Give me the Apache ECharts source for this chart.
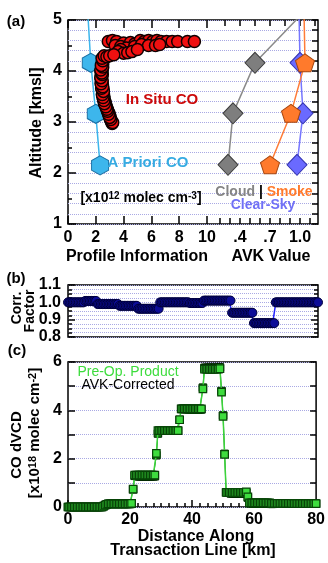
<!DOCTYPE html>
<html>
<head>
<meta charset="utf-8">
<script src="https://cdn.jsdelivr.net/npm/echarts@6/dist/echarts.min.js"></script>
<style>
  html, body { margin: 0; padding: 0; background: #fff; }
  #chart { width: 328px; height: 563px; }
</style>
</head>
<body>
<div id="chart"></div>
<script>
// ---------- Panel (a): vertical profiles ----------
// In situ CO concentration [x10^12 molec cm^-3] versus altitude [km msl]
const insituProfile = [
  3.18, 3.12, 3.10, 3.05, 3.02, 2.98, 2.95, 2.90, 2.85, 2.82, 2.78, 2.75, 2.70, 2.68, 2.65, 2.56, 2.60, 2.58, 2.50, 2.55,
  2.50, 2.52, 2.46, 2.50, 2.44, 2.48, 2.40, 2.45, 2.42, 2.38, 2.44, 2.40, 2.42, 2.38, 2.45, 2.40, 2.48, 2.42, 2.50, 2.45,
  3.22, 3.08, 3.00, 2.92, 2.85, 2.80, 2.72, 2.62, 2.58, 2.52, 2.47, 2.55, 2.42, 2.50, 2.38, 2.46, 2.36, 2.47, 2.43, 2.36, 2.50, 2.40,
  2.9, 3.2, 3.5, 4.0, 4.5, 4.8, 5.2, 5.5, 5.8, 6.1, 6.4, 6.7, 7.1, 7.5, 7.9, 8.6, 9.1,
  3.4, 3.8, 4.2, 4.8, 5.3, 5.8, 6.3, 6.6,
  3.8, 3.6, 4.0, 4.3, 4.6, 5.0,
  2.5, 2.45, 2.6, 2.8, 3.0, 3.3
];
const insituAlt = [
  2.97, 3.01, 3.03, 3.07, 3.11, 3.13, 3.17, 3.19, 3.23, 3.26, 3.28, 3.32, 3.34, 3.38, 3.40, 3.44, 3.46, 3.50, 3.52, 3.56,
  3.58, 3.62, 3.64, 3.67, 3.71, 3.73, 3.77, 3.79, 3.83, 3.85, 3.89, 3.91, 3.94, 3.98, 4.00, 4.04, 4.06, 4.09, 4.13, 4.16,
  2.99, 3.05, 3.09, 3.15, 3.21, 3.25, 3.30, 3.36, 3.42, 3.48, 3.54, 3.60, 3.66, 3.69, 3.75, 3.81, 3.87, 3.93, 3.96, 4.02, 4.08, 4.11,
  4.58, 4.60, 4.58, 4.55, 4.56, 4.53, 4.60, 4.58, 4.60, 4.58, 4.60, 4.58, 4.58, 4.58, 4.58, 4.58, 4.58,
  4.50, 4.48, 4.45, 4.48, 4.52, 4.50, 4.50, 4.52,
  4.42, 4.38, 4.35, 4.36, 4.38, 4.42,
  4.20, 4.25, 4.30, 4.28, 4.30, 4.32
];
// A priori CO profile
const aprioriProfile = [2.31, 2.00, 1.64, 1.42];
const aprioriAlt = [2.15, 3.16, 4.16, 5.16];
// Averaging kernel values per retrieval layer
const avkAlt = [2.16, 3.17, 4.16, 5.16];
const cloudAvk = [0.28, 0.33, 0.55, 1.04];
const clearSkyAvk = [0.97, 1.03, 1.00, 0.99];
const smokeAvk = [0.70, 0.91, 1.05, 1.04];

// Axis tick labels
const profileTicks = [0, 2, 4, 6, 8, 10];
const avkLabelValues = [0.4, 0.7, 1.0];
const avkLabelTexts = ['.4', '.7', '1.0'];
const avkBottomTicks = [0.2, 0.3, 0.4, 0.5, 0.6, 0.7, 0.8, 0.9, 1.0, 1.1];
const avkTopTicks = [0.25, 0.4, 0.55, 0.7, 0.85, 1.0, 1.15];

// ---------- Panels (b) and (c): along the transect ----------
const distanceKm = [
  0, 0.5, 1, 1.5, 2, 2.5, 3, 3.5, 4, 4.5, 5, 5.5, 6, 6.5, 7, 7.5, 8, 8.5, 9, 9.5,
  10, 10.5, 11, 11.5, 12, 12.5, 13, 13.5, 14, 14.5, 15, 15.5, 16, 16.5, 17, 17.5, 18, 18.5, 19, 19.5,
  20, 20.5, 21, 21.5, 22, 22.5, 23, 23.5, 24, 24.5, 25, 25.5, 26, 26.5, 27, 27.5, 28, 28.5, 29, 29.5,
  30, 30.5, 31, 31.5, 32, 32.5, 33, 33.5, 34, 34.5, 35, 35.5, 36, 36.5, 37, 37.5, 38, 38.5, 39, 39.5,
  40, 40.5, 41, 41.5, 42, 42.5, 43, 43.5, 44, 44.5, 45, 45.5, 46, 46.5, 47, 47.5, 48, 48.5, 49, 49.5,
  50, 50.5, 51, 51.5, 52, 52.5, 53, 53.5, 54, 54.5, 55, 55.5, 56, 56.5, 57, 57.5, 58, 58.5, 59, 59.5,
  60, 60.5, 61, 61.5, 62, 62.5, 63, 63.5, 64, 64.5, 65, 65.5, 66, 66.5, 67, 67.5, 68, 68.5, 69, 69.5,
  70, 70.5, 71, 71.5, 72, 72.5, 73, 73.5, 74, 74.5, 75, 75.5, 76, 76.5, 77, 77.5, 78, 78.5, 79, 79.5,
  80
];
// AVK correction factor
const corrFactor = [
  1.0, 1.0, 1.0, 1.0, 1.0, 1.0, 1.0, 1.0, 1.0, 1.0, 1.0, 1.008, 1.008, 1.008, 1.008, 1.008, 1.008, 1.008, 1.008, 0.99,
  0.99, 0.99, 0.99, 0.99, 0.99, 0.99, 0.99, 0.99, 0.99, 0.99, 0.99, 0.99, 0.99, 0.98, 0.98, 0.98, 0.98, 0.98, 0.98, 0.98,
  0.98, 0.98, 0.98, 0.98, 0.98, 0.963, 0.963, 0.963, 0.963, 0.963, 0.963, 0.963, 0.963, 0.963, 0.963, 0.963, 0.963, 0.963, 0.963, 1.0,
  1.0, 1.0, 1.0, 1.0, 1.0, 1.0, 1.0, 1.0, 1.0, 1.0, 1.0, 1.0, 1.0, 1.0, 1.0, 1.0, 1.0, 1.0, 0.996, 0.996,
  0.996, 0.996, 0.996, 0.996, 0.996, 0.996, 0.996, 1.01, 1.01, 1.01, 1.01, 1.01, 1.01, 1.01, 1.01, 1.01, 1.01, 1.01, 1.01, 1.01,
  1.01, 1.01, 1.01, 1.01, 1.01, 0.94, 0.94, 0.94, 0.94, 0.94, 0.94, 0.94, 0.94, 0.94, 0.94, 0.94, 0.94, 0.94, 0.94, 0.88,
  0.88, 0.88, 0.88, 0.88, 0.88, 0.88, 0.88, 0.88, 0.88, 0.88, 0.88, 0.88, 0.88, 1.0, 1.0, 1.0, 1.0, 1.0, 1.0, 1.0,
  1.0, 1.0, 1.0, 1.0, 1.0, 1.0, 1.0, 1.0, 1.0, 1.0, 1.0, 1.0, 1.0, 1.0, 1.0, 1.0, 1.0, 1.0, 1.0, 1.0,
  1.0
];
// CO dVCD [x10^18 molec cm^-2], pre-operational product
const preOpVcd = [
  0, 0, 0, 0, 0, 0, 0, 0, 0, 0, 0, 0, 0, 0, 0, 0, 0, 0, 0, 0,
  0, 0, 0, 0.04, 0.08, 0.11, 0.13, 0.13, 0.13, 0.13, 0.13, 0.13, 0.13, 0.13, 0.13, 0.13, 0.13, 0.13, 0.13, 0.13,
  0.13, 0.15, 0.74, 1.32, 1.32, 1.32, 1.32, 1.32, 1.32, 1.32, 1.32, 1.32, 1.32, 1.32, 1.32, 1.32, 1.32, 2.22, 3.16, 3.16,
  3.16, 3.16, 3.16, 3.16, 3.16, 3.16, 3.16, 3.16, 3.16, 3.16, 3.16, 3.16, 3.61, 4.06, 4.06, 4.06, 4.06, 4.06, 4.06, 4.06,
  4.06, 4.06, 4.06, 4.06, 4.06, 4.06, 4.06, 4.89, 5.70, 5.70, 5.70, 5.70, 5.70, 5.70, 5.70, 5.70, 5.70, 5.70, 5.72, 4.75,
  3.75, 2.18, 0.60, 0.60, 0.60, 0.60, 0.60, 0.60, 0.60, 0.60, 0.60, 0.60, 0.60, 0.60, 0.60, 0.63, 0.42, 0.17, 0.17, 0.17,
  0.17, 0.17, 0.17, 0.17, 0.17, 0.17, 0.17, 0.17, 0.17, 0.17, 0.17, 0.15, 0.15, 0.15, 0.15, 0.15, 0.15, 0.15, 0.15, 0.15,
  0.15, 0.15, 0.15, 0.15, 0.15, 0.14, 0.14, 0.14, 0.14, 0.14, 0.14, 0.14, 0.14, 0.14, 0.14, 0.14, 0.14, 0.14, 0.14, 0.14,
  0.14
];
// CO dVCD after averaging-kernel correction
const avkCorrVcd = [
  0, 0, 0, 0, 0, 0, 0, 0, 0, 0, 0, 0, 0, 0, 0, 0, 0, 0, 0, 0,
  0, 0, 0, 0.04, 0.08, 0.11, 0.13, 0.13, 0.13, 0.13, 0.13, 0.13, 0.13, 0.13, 0.13, 0.13, 0.13, 0.13, 0.13, 0.13,
  0.13, 0.15, 0.73, 1.29, 1.29, 1.27, 1.27, 1.27, 1.27, 1.27, 1.27, 1.27, 1.27, 1.27, 1.27, 1.27, 1.27, 2.14, 3.04, 3.16,
  3.16, 3.16, 3.16, 3.16, 3.16, 3.16, 3.16, 3.16, 3.16, 3.16, 3.16, 3.16, 3.61, 4.06, 4.06, 4.06, 4.06, 4.06, 4.04, 4.04,
  4.04, 4.04, 4.04, 4.04, 4.04, 4.04, 4.04, 4.94, 5.76, 5.76, 5.76, 5.76, 5.76, 5.76, 5.76, 5.76, 5.76, 5.76, 5.78, 4.80,
  3.79, 2.20, 0.61, 0.61, 0.61, 0.56, 0.56, 0.56, 0.56, 0.56, 0.56, 0.56, 0.56, 0.56, 0.56, 0.59, 0.39, 0.16, 0.16, 0.15,
  0.15, 0.15, 0.15, 0.15, 0.15, 0.15, 0.15, 0.15, 0.15, 0.15, 0.15, 0.13, 0.13, 0.15, 0.15, 0.15, 0.15, 0.15, 0.15, 0.15,
  0.15, 0.15, 0.15, 0.15, 0.15, 0.14, 0.14, 0.14, 0.14, 0.14, 0.14, 0.14, 0.14, 0.14, 0.14, 0.14, 0.14, 0.14, 0.14, 0.14,
  0.14
];

// ---------- styling helpers ----------
const FONT = '"Liberation Sans", Arial, Helvetica, sans-serif';
const GRID_DOT = { type: 'dotted', color: '#a9a9e4', width: 1 };
const TICK = { color: '#000', width: 1.5 };
const HEX = 'path://M0,-10L8.66,-5L8.66,5L0,10L-8.66,5L-8.66,-5Z';
const PENT = 'path://M0,-10L9.51,-3.09L5.88,8.09L-5.88,8.09L-9.51,-3.09Z';

const zip = (xs, ys) => xs.map((x, i) => [x, ys[i]]);
const label = (extra) => Object.assign({
  color: '#000', fontFamily: FONT, fontWeight: 'bold', fontSize: 16
}, extra || {});
const hidden = { show: false };

function text(x, y, str, opt) {
  opt = opt || {};
  return {
    type: 'text', x: x, y: y, z: 100,
    rotation: opt.rotate ? Math.PI / 2 : 0,
    style: {
      text: str,
      fill: opt.color || '#000',
      fontFamily: FONT,
      fontWeight: opt.weight || 'bold',
      fontSize: opt.size || 16,
      align: opt.align || 'center',
      verticalAlign: 'middle',
      rich: opt.rich
    }
  };
}
const supRich = (size) => ({
  sup: { fontSize: size, fontFamily: FONT, fontWeight: 'bold', fill: '#000', verticalAlign: 'top' }
});

const chart = echarts.init(document.getElementById('chart'), null, { renderer: 'canvas' });

const option = {
  animation: false,
  backgroundColor: '#fff',
  grid: [
    { left: 68, top: 20, width: 250, height: 204, show: true, borderColor: '#000', borderWidth: 1.5, backgroundColor: 'transparent' },
    { left: 68, top: 285, width: 250, height: 52, show: true, borderColor: '#000', borderWidth: 1.5, backgroundColor: 'transparent' },
    { left: 68, top: 362, width: 250, height: 145, show: true, borderColor: '#000', borderWidth: 1.5, backgroundColor: 'transparent' }
  ],
  xAxis: [
    // 0: profile information (bottom)
    { gridIndex: 0, type: 'value', min: 0, max: 18, position: 'bottom',
      axisLine: { show: false, onZero: false }, splitLine: hidden,
      axisTick: { inside: true, length: 8, lineStyle: TICK, customValues: profileTicks },
      axisLabel: label({ margin: 6, customValues: profileTicks }) },
    // 1: AVK value (bottom)
    { gridIndex: 0, type: 'value', min: -1.32, max: 1.18, position: 'bottom',
      axisLine: { show: false, onZero: false }, splitLine: hidden,
      axisTick: { inside: true, length: 6, lineStyle: TICK, customValues: avkBottomTicks },
      axisLabel: label({ margin: 6, customValues: avkLabelValues,
        formatter: (v) => avkLabelTexts[avkLabelValues.findIndex(a => Math.abs(a - v) < 1e-6)] || '' }) },
    // 2: profile ticks along the top
    { gridIndex: 0, type: 'value', min: 0, max: 18, position: 'top',
      axisLine: { show: false, onZero: false }, splitLine: hidden, axisLabel: hidden,
      axisTick: { inside: true, length: 8, lineStyle: TICK, customValues: profileTicks } },
    // 3: AVK ticks along the top
    { gridIndex: 0, type: 'value', min: -1.32, max: 1.18, position: 'top',
      axisLine: { show: false, onZero: false }, splitLine: hidden, axisLabel: hidden,
      axisTick: { inside: true, length: 6, lineStyle: TICK, customValues: avkTopTicks } },
    // 4: panel (b) distance
    { gridIndex: 1, type: 'value', min: 0, max: 80, position: 'bottom',
      axisLine: { show: false, onZero: false }, splitLine: hidden, axisLabel: hidden, axisTick: hidden },
    // 5: panel (c) distance
    { gridIndex: 2, type: 'value', min: 0, max: 80, interval: 20, position: 'bottom',
      axisLine: { show: false, onZero: false }, splitLine: hidden,
      axisTick: { inside: true, length: 7, lineStyle: TICK },
      minorTick: { show: true, splitNumber: 8, length: 4, lineStyle: TICK },
      axisLabel: label({ margin: 5 }) }
  ],
  yAxis: [
    // 0: altitude (left)
    { gridIndex: 0, type: 'value', min: 1, max: 5, interval: 1, position: 'left',
      axisLine: { show: false, onZero: false }, splitLine: hidden,
      axisTick: { inside: true, length: 8, lineStyle: TICK },
      minorTick: { show: true, splitNumber: 2, length: 4, lineStyle: TICK },
      axisLabel: label({ margin: 6 }) },
    // 1: altitude (right) with dotted grid
    { gridIndex: 0, type: 'value', min: 1, max: 5, interval: 0.2, position: 'right',
      axisLine: { show: false, onZero: false }, axisLabel: hidden,
      axisTick: { inside: true, length: 6, lineStyle: TICK },
      splitLine: { show: true, lineStyle: GRID_DOT } },
    // 2: correction factor (left)
    { gridIndex: 1, type: 'value', min: 0.8, max: 1.1, interval: 0.1, position: 'left',
      axisLine: { show: false, onZero: false }, splitLine: hidden,
      axisTick: { inside: true, length: 7, lineStyle: TICK },
      minorTick: { show: true, splitNumber: 4, length: 4, lineStyle: TICK },
      axisLabel: label({ margin: 7, formatter: (v) => v.toFixed(1) }) },
    // 3: correction factor (right) with dotted grid
    { gridIndex: 1, type: 'value', min: 0.8, max: 1.1, interval: 0.1, position: 'right',
      axisLine: { show: false, onZero: false }, axisLabel: hidden,
      axisTick: { inside: true, length: 7, lineStyle: TICK },
      minorTick: { show: true, splitNumber: 4, length: 4, lineStyle: TICK },
      splitLine: { show: true, lineStyle: GRID_DOT },
      minorSplitLine: { show: true, lineStyle: GRID_DOT } },
    // 4: CO dVCD (left)
    { gridIndex: 2, type: 'value', min: 0, max: 6, interval: 1, position: 'left',
      axisLine: { show: false, onZero: false }, splitLine: hidden,
      axisTick: { inside: true, length: 7, lineStyle: TICK },
      axisLabel: label({ margin: 6, formatter: (v) => (v % 2 === 0 ? String(v) : '') }) },
    // 5: CO dVCD (right) with dotted grid
    { gridIndex: 2, type: 'value', min: 0, max: 6, interval: 1, position: 'right',
      axisLine: { show: false, onZero: false }, axisLabel: hidden,
      axisTick: { inside: true, length: 6, lineStyle: TICK },
      splitLine: { show: true, lineStyle: GRID_DOT } }
  ],
  series: [
    { name: 'A Priori CO', type: 'line', xAxisIndex: 0, yAxisIndex: 0, z: 3, silent: true,
      data: zip(aprioriProfile, aprioriAlt),
      symbol: HEX, symbolSize: [17, 19],
      itemStyle: { color: '#3db6ec', borderColor: '#1a6fa3', borderWidth: 1 },
      lineStyle: { color: '#3db6ec', width: 1.5 } },
    { name: 'In Situ CO', type: 'scatter', xAxisIndex: 0, yAxisIndex: 0, z: 4, silent: true,
      data: zip(insituProfile, insituAlt),
      symbol: 'circle', symbolSize: 12,
      itemStyle: { color: '#f01010', borderColor: '#100000', borderWidth: 1.5, opacity: 1 } },
    { name: 'Cloud', type: 'line', xAxisIndex: 1, yAxisIndex: 0, z: 3, silent: true,
      data: zip(cloudAvk, avkAlt),
      symbol: 'diamond', symbolSize: [20, 21],
      itemStyle: { color: '#7e7e7e', borderColor: '#3c3c3c', borderWidth: 1 },
      lineStyle: { color: '#8a8a8a', width: 1.5 } },
    { name: 'Clear-Sky', type: 'line', xAxisIndex: 1, yAxisIndex: 0, z: 3, silent: true,
      data: zip(clearSkyAvk, avkAlt),
      symbol: 'diamond', symbolSize: [20, 21],
      itemStyle: { color: '#6a6aff', borderColor: '#3434b0', borderWidth: 1 },
      lineStyle: { color: '#7676ff', width: 1.5 } },
    { name: 'Smoke', type: 'line', xAxisIndex: 1, yAxisIndex: 0, z: 3, silent: true,
      data: zip(smokeAvk, avkAlt),
      symbol: PENT, symbolSize: [19, 18],
      itemStyle: { color: '#ff7a2c', borderColor: '#a6460e', borderWidth: 1 },
      lineStyle: { color: '#ff7c38', width: 1.5 } },
    { name: 'Corr. Factor', type: 'line', xAxisIndex: 4, yAxisIndex: 2, z: 3, silent: true,
      data: zip(distanceKm, corrFactor),
      symbol: 'circle', symbolSize: 9,
      itemStyle: { color: '#0d0d98', borderColor: '#00003a', borderWidth: 1 },
      lineStyle: { color: '#2323ff', width: 1.5 } },
    { name: 'AVK-Corrected', type: 'line', xAxisIndex: 5, yAxisIndex: 4, z: 2, silent: true,
      data: zip(distanceKm, avkCorrVcd),
      symbol: 'rect', symbolSize: 7.5,
      itemStyle: { color: '#107a10', borderColor: '#002600', borderWidth: 1 },
      lineStyle: { color: '#107a10', width: 1 } },
    { name: 'Pre-Op. Product', type: 'line', xAxisIndex: 5, yAxisIndex: 4, z: 3, silent: true,
      data: zip(distanceKm, preOpVcd),
      symbol: 'rect', symbolSize: 7.5,
      itemStyle: { color: '#3edc3e', borderColor: '#074407', borderWidth: 1.2 },
      lineStyle: { color: '#3bd43b', width: 1.5 } }
  ],
  graphic: [
    // panel (a)
    text(16, 22, '(a)', { size: 15 }),
    text(37, 123, 'Altitude [kmsl]', { rotate: true }),
    text(162, 100, 'In Situ CO', { color: '#cc0a0a', size: 15 }),
    text(148, 163, 'A Priori CO', { color: '#36abe2', size: 15 }),
    text(141, 198, '[x10{sup|12} molec cm{sup|-3}]', { size: 14, rich: supRich(10) }),
    text(264, 192, '{c|Cloud} {b||} {s|Smoke}', { size: 14, rich: {
      c: { fill: '#858585', fontFamily: FONT, fontWeight: 'bold', fontSize: 14 },
      b: { fill: '#000', fontFamily: FONT, fontWeight: 'bold', fontSize: 14 },
      s: { fill: '#ff7a2c', fontFamily: FONT, fontWeight: 'bold', fontSize: 14 }
    } }),
    text(263, 205, 'Clear-Sky', { color: '#7070f6', size: 14 }),
    text(137, 257, 'Profile Information'),
    text(271, 257, 'AVK Value'),
    // panel (b)
    text(16, 279, '(b)', { size: 15 }),
    text(17, 308, 'Corr.', { rotate: true, size: 14 }),
    text(30, 311, 'Factor', { rotate: true, size: 14 }),
    // panel (c)
    text(17, 351, '(c)', { size: 15 }),
    text(17, 445, 'CO dVCD', { rotate: true, size: 15 }),
    text(35, 433, '[x10{sup|18} molec cm{sup|-2}]', { rotate: true, size: 15, rich: supRich(11) }),
    text(128, 372, 'Pre-Op. Product', { color: '#3ddc3d', size: 14, weight: 'normal' }),
    text(128, 385, 'AVK-Corrected', { size: 14, weight: 'normal' }),
    text(196, 537, 'Distance Along'),
    text(193, 551, 'Transaction Line [km]')
  ]
};

chart.setOption(option);
</script>
</body>
</html>
